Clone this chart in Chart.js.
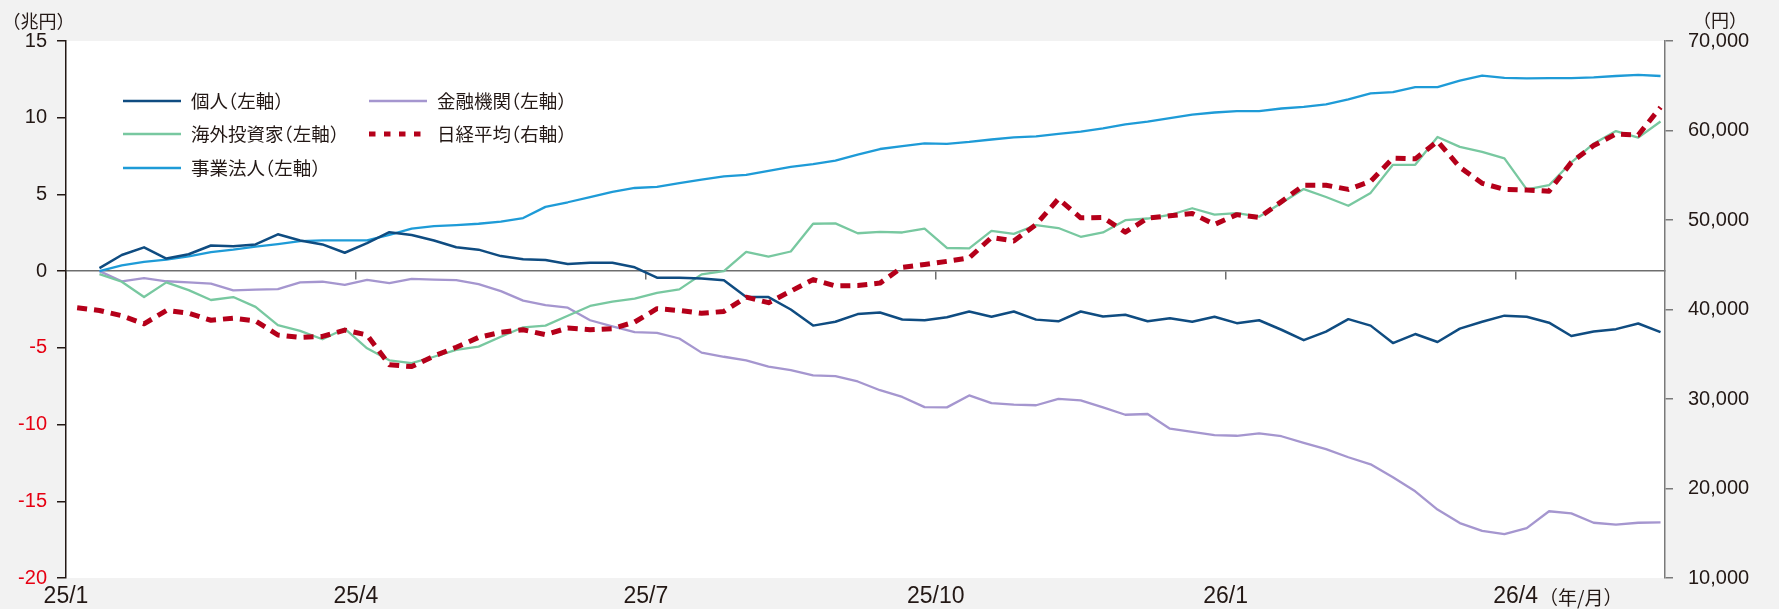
<!DOCTYPE html>
<html lang="ja">
<head>
<meta charset="utf-8">
<title>投資部門別 累積売買動向</title>
<script src="https://cdn.jsdelivr.net/npm/chart.js@4.4.1/dist/chart.umd.min.js"></script>
<style>
    html, body { margin: 0; padding: 0; background: #f2f2f2; }
    #wrap { width: 1779px; height: 609px; }
</style>
</head>
<body>
<div id="wrap"><canvas id="flowChart" width="1779" height="609"></canvas></div>
<script>
// 週次データ（累積売買, 兆円）と日経平均（円）
const quarterWeeks = [0, 13, 26, 39, 52, 65];
const quarterLabels = ['25/1', '25/4', '25/7', '25/10', '26/1', '26/4'];
const nikkeiStartWeek = 0.5;
const flowStartWeek = 1.5;
const lastWeek = 71.7;

const kojin = [0.2, 1.05, 1.55, 0.82, 1.1, 1.67, 1.62, 1.74, 2.4, 2.0,
    1.74, 1.2, 1.83, 2.54, 2.36, 2.0, 1.56, 1.4, 0.98, 0.78,
    0.73, 0.46, 0.55, 0.55, 0.25, -0.43, -0.43, -0.48, -0.6, -1.69,
    -1.69, -2.5, -3.55, -3.3, -2.8, -2.7, -3.15, -3.2, -3.0, -2.63,
    -2.97, -2.63, -3.16, -3.27, -2.63, -2.95, -2.84, -3.27, -3.07, -3.3,
    -2.97, -3.39, -3.2, -3.82, -4.5, -3.94, -3.13, -3.55, -4.69, -4.1,
    -4.62, -3.75, -3.3, -2.9, -2.97, -3.36, -4.23, -3.94, -3.78, -3.41,
    -3.98];

const kinyu = [0, -0.66, -0.46, -0.66, -0.73, -0.82, -1.26, -1.21, -1.17, -0.73,
    -0.69, -0.89, -0.57, -0.78, -0.5, -0.55, -0.59, -0.85, -1.3, -1.92,
    -2.22, -2.38, -3.2, -3.6, -3.98, -4.03, -4.39, -5.31, -5.58, -5.81,
    -6.22, -6.45, -6.8, -6.84, -7.19, -7.76, -8.2, -8.86, -8.88, -8.1,
    -8.6, -8.7, -8.74, -8.33, -8.42, -8.88, -9.36, -9.31, -10.27, -10.48,
    -10.69, -10.73, -10.57, -10.76, -11.19, -11.6, -12.13, -12.59, -13.43, -14.35,
    -15.54, -16.42, -16.93, -17.14, -16.75, -15.65, -15.79, -16.4, -16.52, -16.4,
    -16.38];

const kaigai = [-0.2, -0.69, -1.69, -0.73, -1.24, -1.88, -1.69, -2.33, -3.52, -3.89,
    -4.44, -3.75, -5.03, -5.81, -6.0, -5.58, -5.13, -4.92, -4.28, -3.66,
    -3.55, -2.91, -2.27, -1.99, -1.79, -1.42, -1.19, -0.21, 0, 1.26,
    0.94, 1.28, 3.09, 3.11, 2.47, 2.56, 2.52, 2.77, 1.51, 1.49,
    2.63, 2.43, 3.0, 2.81, 2.24, 2.52, 3.32, 3.43, 3.66, 4.1,
    3.68, 3.78, 3.55, 4.44, 5.35, 4.83, 4.26, 5.1, 6.93, 6.93,
    8.74, 8.1, 7.78, 7.35, 5.33, 5.6, 7.09, 8.31, 9.13, 8.7,
    9.75];

const jigyo = [0, 0.37, 0.6, 0.75, 0.96, 1.24, 1.4, 1.6, 1.76, 1.95,
    2.0, 2.0, 2.0, 2.36, 2.77, 2.93, 3.0, 3.09, 3.23, 3.46,
    4.19, 4.49, 4.83, 5.17, 5.42, 5.49, 5.74, 5.97, 6.18, 6.27,
    6.54, 6.8, 6.98, 7.2, 7.6, 7.96, 8.15, 8.33, 8.3, 8.42,
    8.58, 8.72, 8.79, 8.95, 9.1, 9.31, 9.56, 9.75, 9.98, 10.2,
    10.34, 10.43, 10.43, 10.6, 10.7, 10.87, 11.2, 11.58, 11.67, 12.0,
    12.0, 12.42, 12.75, 12.6, 12.56, 12.58, 12.58, 12.63, 12.72, 12.79,
    12.72];

const nikkei = [40200, 39890, 39310, 38400, 39890, 39580, 38800, 39030, 38720, 37150,
    36880, 36990, 37700, 37150, 33820, 33620, 34800, 35780, 36880, 37460,
    37740, 37190, 37930, 37740, 37860, 38600, 40090, 39890, 39580, 39780,
    41380, 40760, 42050, 43340, 42640, 42680, 42950, 44720, 45030, 45380,
    45770, 48050, 47660, 49500, 52360, 50240, 50280, 48640, 50200, 50480,
    50730, 49500, 50600, 50280, 52050, 53890, 53890, 53420, 54320, 56910,
    56830, 58790, 55900, 54100, 53420, 53340, 53220, 56440, 58320, 59610,
    59490, 62600];

const TEXT_COLOR = '#231815';
const NEG_COLOR = '#e60012';
const CJK_FONT = '"Noto Sans CJK JP", "Noto Sans", sans-serif';
const NUM_FONT = '"Liberation Sans", Arial, sans-serif';

function toPoints(values, startWeek) {
    return values.map((v, i) => ({ x: startWeek + i, y: v }));
}

// 全角括弧を半角幅で詰めて描く（palt相当）
function drawPalt(ctx, text, x, y, size, measureOnly) {
    let cx = x;
    for (const ch of text) {
        if (ch === '（') {
            if (!measureOnly) ctx.fillText(ch, cx - size * 0.5, y);
            cx += size * 0.5;
        } else if (ch === '）') {
            if (!measureOnly) ctx.fillText(ch, cx, y);
            cx += size * 0.5;
        } else {
            if (!measureOnly) ctx.fillText(ch, cx, y);
            cx += ctx.measureText(ch).width;
        }
    }
    return cx - x;
}

function drawPaltCentered(ctx, text, cx, y, size) {
    const w = drawPalt(ctx, text, 0, 0, size, true);
    drawPalt(ctx, text, cx - w / 2, y, size, false);
}

const backgroundPlugin = {
    id: 'background',
    beforeDraw(chart) {
        const { ctx, chartArea } = chart;
        ctx.save();
        ctx.fillStyle = '#f2f2f2';
        ctx.fillRect(0, 0, chart.width, chart.height);
        ctx.fillStyle = '#ffffff';
        ctx.fillRect(chartArea.left, chartArea.top, chartArea.right - chartArea.left, chartArea.bottom - chartArea.top);
        ctx.restore();
    }
};

// 凡例（2列）
const legendLayout = [
    { index: 1, col: 0, row: 0 },
    { index: 4, col: 1, row: 0 },
    { index: 3, col: 0, row: 1 },
    { index: 0, col: 1, row: 1 },
    { index: 2, col: 0, row: 2 }
];

const textPlugin = {
    id: 'texts',
    afterDraw(chart) {
        const { ctx, chartArea } = chart;
        const xScale = chart.scales.x;
        ctx.save();
        ctx.fillStyle = TEXT_COLOR;
        ctx.textBaseline = 'middle';
        ctx.textAlign = 'left';

        // 単位
        ctx.font = '18px ' + CJK_FONT;
        drawPaltCentered(ctx, '（兆円）', 38.5, 21, 18);
        drawPaltCentered(ctx, '（円）', 1720, 20, 18);

        // 年/月
        ctx.font = '19px ' + CJK_FONT;
        drawPalt(ctx, '（年/月）', xScale.getPixelForValue(quarterWeeks[5]) + 33, 598, 19, false);

        // 凡例
        const colX = [chartArea.left + 57, chartArea.left + 303];
        const rowY = [chartArea.top + 60, chartArea.top + 93, chartArea.top + 127];
        ctx.font = '18.5px ' + CJK_FONT;
        legendLayout.forEach(item => {
            const ds = chart.data.datasets[item.index];
            const x = colX[item.col];
            const y = rowY[item.row];
            ctx.save();
            ctx.strokeStyle = ds.borderColor;
            ctx.lineWidth = ds.borderWidth;
            ctx.lineCap = 'butt';
            if (ds.borderDash) ctx.setLineDash([6.5, 8.5]);
            ctx.beginPath();
            ctx.moveTo(x, y);
            ctx.lineTo(x + 58, y);
            ctx.stroke();
            ctx.restore();
            ctx.fillStyle = TEXT_COLOR;
            drawPalt(ctx, ds.label, x + 68, y, 18.5, false);
        });
        ctx.restore();
    }
};

function quarterTicks(scale) {
    scale.ticks = quarterWeeks.map(v => ({ value: v }));
}

const canvas = document.getElementById('flowChart');
const flowChart = new Chart(canvas.getContext('2d'), {
    type: 'line',
    data: {
        datasets: [
            {
                label: '日経平均（右軸）',
                data: toPoints(nikkei, nikkeiStartWeek),
                yAxisID: 'y2',
                borderColor: '#b5001a',
                borderWidth: 5,
                borderDash: [10, 7],
                borderCapStyle: 'butt'
            },
            {
                label: '個人（左軸）',
                data: toPoints(kojin, flowStartWeek),
                yAxisID: 'y',
                borderColor: '#0f4c81',
                borderWidth: 2.5
            },
            {
                label: '事業法人（左軸）',
                data: toPoints(jigyo, flowStartWeek),
                yAxisID: 'y',
                borderColor: '#1e9bd7',
                borderWidth: 2.3
            },
            {
                label: '海外投資家（左軸）',
                data: toPoints(kaigai, flowStartWeek),
                yAxisID: 'y',
                borderColor: '#78c8a0',
                borderWidth: 2.3
            },
            {
                label: '金融機関（左軸）',
                data: toPoints(kinyu, flowStartWeek),
                yAxisID: 'y',
                borderColor: '#a596cf',
                borderWidth: 2.3
            }
        ]
    },
    options: {
        responsive: false,
        animation: false,
        elements: {
            point: { radius: 0 },
            line: { tension: 0, borderJoinStyle: 'round' }
        },
        layout: {
            padding: { top: 41, left: 0, right: 0, bottom: 0 }
        },
        plugins: {
            legend: { display: false },
            tooltip: { enabled: false }
        },
        scales: {
            x: {
                type: 'linear',
                position: 'bottom',
                min: 0,
                max: lastWeek,
                afterBuildTicks: quarterTicks,
                afterFit: scale => { scale.height = 31; },
                border: { display: false },
                grid: { display: false, drawTicks: false },
                ticks: {
                    padding: 5,
                    maxRotation: 0,
                    autoSkip: false,
                    color: TEXT_COLOR,
                    font: { family: NUM_FONT, size: 23 },
                    callback: function(value) {
                        const k = quarterWeeks.indexOf(value);
                        return k >= 0 ? quarterLabels[k] : '';
                    }
                }
            },
            x0: {
                type: 'linear',
                position: { y: 0 },
                min: 0,
                max: lastWeek,
                afterBuildTicks: quarterTicks,
                border: { display: true, color: '#6e6e6e', width: 1.5 },
                grid: { drawOnChartArea: false, drawTicks: true, tickLength: 8, color: '#6e6e6e', lineWidth: 1.5 },
                ticks: { display: false }
            },
            y: {
                position: 'left',
                min: -20,
                max: 15,
                afterFit: scale => { scale.width = 66; },
                border: { display: true, color: TEXT_COLOR, width: 1.5 },
                grid: { drawOnChartArea: false, drawTicks: true, tickLength: 9, color: TEXT_COLOR, lineWidth: 1.5 },
                ticks: {
                    stepSize: 5,
                    padding: 10,
                    font: { family: NUM_FONT, size: 20 },
                    color: c => (c.tick && c.tick.value < 0 ? NEG_COLOR : TEXT_COLOR)
                }
            },
            y2: {
                position: 'right',
                min: 10000,
                max: 70000,
                afterFit: scale => { scale.width = 114; },
                border: { display: true, color: '#7a7a7a', width: 1.5 },
                grid: { drawOnChartArea: false, drawTicks: true, tickLength: 8, color: '#7a7a7a', lineWidth: 1.5 },
                ticks: {
                    stepSize: 10000,
                    padding: 15,
                    font: { family: NUM_FONT, size: 20 },
                    color: TEXT_COLOR,
                    callback: value => value.toLocaleString('en-US')
                }
            }
        }
    },
    plugins: [backgroundPlugin, textPlugin]
});
</script>
</body>
</html>
